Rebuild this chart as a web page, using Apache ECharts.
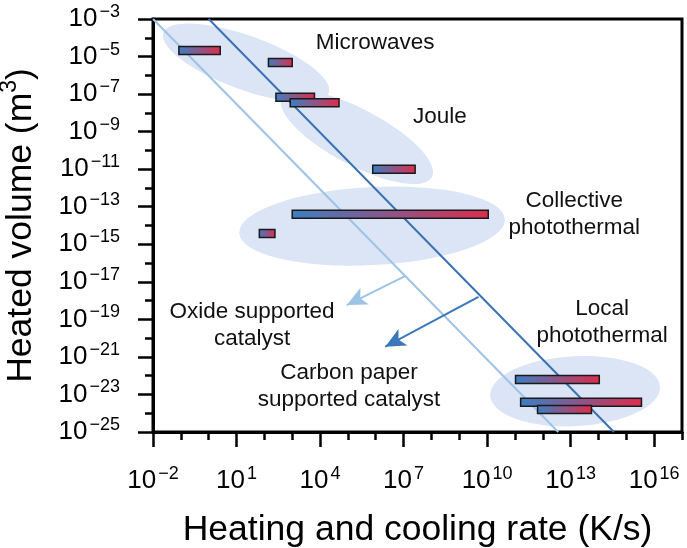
<!DOCTYPE html>
<html>
<head>
<meta charset="utf-8">
<script src="https://cdn.jsdelivr.net/npm/echarts@6/dist/echarts.min.js"></script>
<style>
html,body{margin:0;padding:0;background:#fff}
#main{width:687px;height:548px}
</style>
</head>
<body>
<div id="main"></div>
<script>
/* bars: heating/cooling rate range (K/s) at a heated volume (m3) */
var rateLow  = [0.085, 140, 260, 850, 7.8e5, 1.0e3, 66, 1.05e11, 1.6e11, 6.5e11];
var rateHigh = [2.6, 1.0e3, 6.3e3, 4.8e4, 2.6e7, 1.1e10, 240, 1.07e14, 3.5e15, 5.6e13];
var volume   = [2.1e-5, 4.8e-6, 6.8e-8, 3.5e-8, 1.0e-11, 4.0e-14, 3.8e-15, 6.3e-23, 3.8e-24, 1.6e-24];

/* limit lines */
var darkLineRate  = [1, 3.6e14];
var darkLineVol   = [1e-3, 1e-25];
var lightLineRate = [0.01, 3.6e12];
var lightLineVol  = [1e-3, 1e-25];

/* arrows (start on line -> tip) */
var lightArrowRate = [1.12e7, 9.1e4];
var lightArrowVol  = [2.0e-17, 5.8e-19];
var darkArrowRate  = [4.9e9, 2.2e6];
var darkArrowVol   = [1.6e-18, 3.5e-21];

/* shaded regions, centres */
var regionRate = [22, 2.1e5, 7.4e5, 1.45e13];
var regionVol  = [4.6e-6, 5.1e-10, 9.3e-15, 1.5e-23];

/* annotations */
var noteText = ['Microwaves', 'Joule', 'Collective\nphotothermal', 'Oxide supported\ncatalyst', 'Carbon paper\nsupported catalyst', 'Local\nphotothermal'];
var noteRate = [9.5e5, 2.0e8, 1.35e13, 36, 1.1e5, 1.35e14];
var noteVol  = [5.2e-5, 6.0e-9, 4.1e-14, 5.0e-20, 2.6e-23, 7.2e-20];

var xMajorTicks = [-2, 1, 4, 7, 10, 13, 16];

var lg = Math.log10;
var FONT = "'Liberation Sans', Arial, sans-serif";
// ellipse size/rotation in px/deg (style)
var regionShape = [
    {rx: 88, ry: 27, rot: -20},
    {rx: 85, ry: 28, rot: -28},
    {rx: 133, ry: 39, rot: 3},
    {rx: 85, ry: 35, rot: 3}
];

function pairs(xs, ys){
    var out = [];
    for(var i=0;i<xs.length;i++){ out.push([lg(xs[i]), lg(ys[i])]); }
    return out;
}
var barData = [];
for(var i=0;i<volume.length;i++){
    barData.push([lg(rateLow[i]), lg(rateHigh[i]), lg(volume[i])]);
}

function powLabel(v){
    if (xMajorTicks.indexOf(v) < 0 && v > 16) return '';
    return '{b|10}{s|' + (v < 0 ? '\u2212' : '') + Math.abs(v) + '}';
}
var powRich = {
    b: {fontSize: 26, lineHeight: 26, fontFamily: FONT, color: '#000'},
    s: {fontSize: 18, lineHeight: 18, fontFamily: FONT, color: '#000', padding: [0, 0, 14, 2]}
};
var tickStyle = {color: '#000', width: 2.5};

var myChart = echarts.init(document.getElementById('main'));
var option = {
    animation: false,
    grid: {left: 153, right: 5, top: 19, bottom: 116, show: true, borderColor: '#000', borderWidth: 3,
        containLabel: false, outerBoundsMode: 'none'},
    xAxis: [
        {
            type: 'value', min: -2, max: 17, interval: 1, position: 'bottom',
            axisLine: {onZero: false, lineStyle: {color: '#000', width: 3}},
            axisTick: {length: 8, lineStyle: tickStyle},
            axisLabel: {show: false},
            splitLine: {show: false},
            name: 'Heating and cooling rate (K/s)',
            nameLocation: 'middle',
            nameGap: 80,
            nameTextStyle: {fontSize: 35.5, color: '#000', fontFamily: FONT}
        },
        {
            type: 'value', min: -2, max: 17, interval: 3, position: 'bottom',
            axisLine: {show: false, onZero: false},
            axisTick: {length: 15, lineStyle: tickStyle, customValues: xMajorTicks},
            axisLabel: {margin: 36, formatter: powLabel, rich: powRich, customValues: xMajorTicks},
            splitLine: {show: false}
        }
    ],
    yAxis: {
        type: 'value', min: -25, max: -3, interval: 2,
        axisLine: {onZero: false, lineStyle: {color: '#000', width: 3}},
        axisTick: {length: 15, lineStyle: tickStyle},
        minorTick: {show: true, splitNumber: 2, length: 8, lineStyle: tickStyle},
        axisLabel: {margin: 33, formatter: powLabel, rich: powRich},
        splitLine: {show: false},
        name: 'Heated volume (m{s|3})',
        nameLocation: 'middle',
        nameGap: 114,
        nameTextStyle: {
            fontSize: 35.5, color: '#000', fontFamily: FONT,
            rich: {s: {fontSize: 23, lineHeight: 23, fontFamily: FONT, color: '#000', padding: [0, 0, 22, 0]}}
        }
    },
    series: [
        {
            name: 'regions',
            type: 'custom',
            z: 1,
            silent: true,
            data: pairs(regionRate, regionVol),
            renderItem: function (params, api) {
                var c = api.coord([api.value(0), api.value(1)]);
                var r = regionShape[params.dataIndex];
                return {
                    type: 'circle',
                    x: c[0], y: c[1],
                    rotation: r.rot * Math.PI / 180,
                    scaleX: r.rx / r.ry,
                    shape: {cx: 0, cy: 0, r: r.ry},
                    style: {fill: '#dbe5f5'}
                };
            }
        },
        {
            name: 'light limit',
            type: 'line', z: 2, symbol: 'none', silent: true,
            data: pairs(lightLineRate, lightLineVol),
            lineStyle: {color: '#9dc3e6', width: 2}
        },
        {
            name: 'dark limit',
            type: 'line', z: 2, symbol: 'none', silent: true,
            data: pairs(darkLineRate, darkLineVol),
            lineStyle: {color: '#3a72b3', width: 2},
            markLine: {
                silent: true,
                symbol: ['none', 'arrow'],
                symbolSize: [14, 20],
                label: {show: false},
                data: [
                    [
                        {coord: [lg(lightArrowRate[0]), lg(lightArrowVol[0])], lineStyle: {color: '#9dc3e6', width: 2, type: 'solid'}},
                        {coord: [lg(lightArrowRate[1]), lg(lightArrowVol[1])]}
                    ],
                    [
                        {coord: [lg(darkArrowRate[0]), lg(darkArrowVol[0])], lineStyle: {color: '#3a78ba', width: 2, type: 'solid'}},
                        {coord: [lg(darkArrowRate[1]), lg(darkArrowVol[1])]}
                    ]
                ]
            }
        },
        {
            name: 'bars',
            type: 'custom', z: 3, silent: true,
            data: barData,
            renderItem: function (params, api) {
                var p0 = api.coord([api.value(0), api.value(2)]);
                var p1 = api.coord([api.value(1), api.value(2)]);
                var h = 8;
                return {
                    type: 'rect',
                    shape: {x: p0[0], y: p0[1] - h / 2, width: p1[0] - p0[0], height: h},
                    style: {
                        fill: new echarts.graphic.LinearGradient(0, 0, 1, 0, [
                            {offset: 0, color: '#3b7fc4'},
                            {offset: 1, color: '#de2c4c'}
                        ]),
                        stroke: '#1a1a1a',
                        lineWidth: 1.5
                    }
                };
            }
        },
        {
            name: 'notes',
            type: 'custom', z: 4, silent: true,
            data: pairs(noteRate, noteVol),
            renderItem: function (params, api) {
                var c = api.coord([api.value(0), api.value(1)]);
                return {
                    type: 'text',
                    x: c[0], y: c[1],
                    style: {
                        text: noteText[params.dataIndex],
                        fontSize: 22.5, fontFamily: FONT, fill: '#111',
                        align: 'center', verticalAlign: 'middle', lineHeight: 27
                    }
                };
            }
        }
    ]
};
myChart.setOption(option, true);
</script>
</body>
</html>
